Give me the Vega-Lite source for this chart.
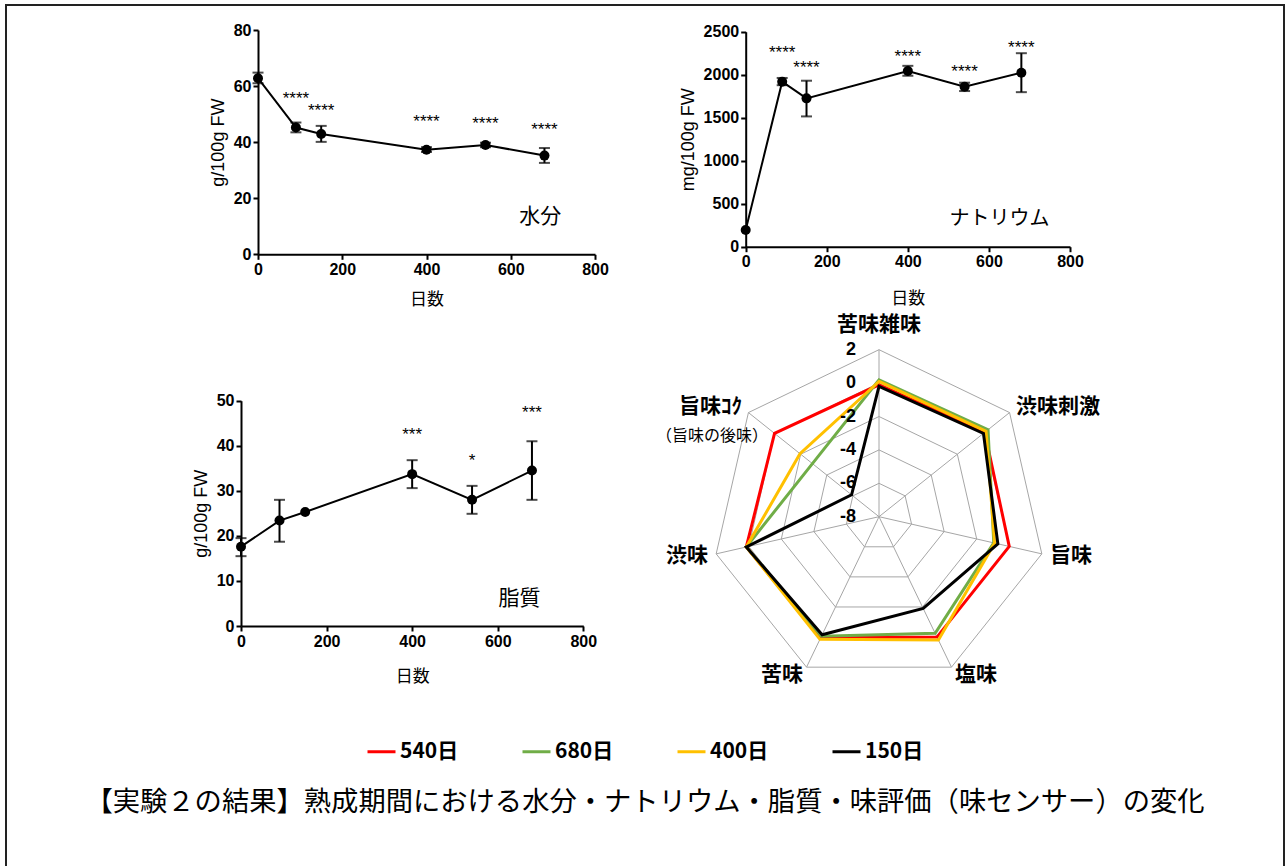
{
  "$schema": "https://vega.github.io/schema/vega-lite/v6.json",
  "width": 1278,
  "height": 870,
  "autosize": "none",
  "padding": {"left": 6, "top": 5, "right": 3, "bottom": 0},
  "background": "white",
  "title": {
    "text": "【実験２の結果】熟成期間における水分・ナトリウム・脂質・味評価（味センサー）の変化",
    "orient": "bottom", "anchor": "middle", "frame": "group", "offset": -86, "baseline": "top",
    "font": "Noto Sans CJK JP", "fontSize": 27.3, "fontWeight": "normal", "color": "black"
  },
  "config": {
    "view": {"stroke": "#222", "strokeWidth": 2},
    "axis": {
      "domainColor": "#000", "domainWidth": 2, "tickColor": "#000", "tickWidth": 2, "tickSize": 5,
      "labelFont": "Liberation Sans", "labelFontWeight": "bold", "labelFontSize": 16, "labelColor": "#000",
      "labelPadding": 2, "labelFlush": false, "labelOverlap": false, "format": "d",
      "titleFont": "Liberation Sans", "titleFontWeight": "normal", "titleFontSize": 18, "titleColor": "#000",
      "grid": false
    }
  },
  "datasets": {
    "water": [
      {"d": 0, "y": 62.8, "lo": 61.0, "hi": 64.8},
      {"d": 90, "y": 45.2, "lo": 43.5, "hi": 47.0, "sig": "****", "sy": 57.2},
      {"d": 150, "y": 42.9, "lo": 40.1, "hi": 45.8, "sig": "****", "sy": 52.9},
      {"d": 400, "y": 37.3, "lo": 36.5, "hi": 38.2, "sig": "****", "sy": 48.9},
      {"d": 540, "y": 39.0, "lo": 38.2, "hi": 39.8, "sig": "****", "sy": 48.3},
      {"d": 680, "y": 35.2, "lo": 32.6, "hi": 37.9, "sig": "****", "sy": 46.1}
    ],
    "sodium": [
      {"d": 0, "y": 194},
      {"d": 90, "y": 1918, "lo": 1878, "hi": 1962, "sig": "****", "sy": 2314},
      {"d": 150, "y": 1725, "lo": 1515, "hi": 1930, "sig": "****", "sy": 2132},
      {"d": 400, "y": 2043, "lo": 1988, "hi": 2103, "sig": "****", "sy": 2267},
      {"d": 540, "y": 1860, "lo": 1810, "hi": 1907, "sig": "****", "sy": 2085},
      {"d": 680, "y": 2023, "lo": 1797, "hi": 2250, "sig": "****", "sy": 2364}
    ],
    "lipid": [
      {"d": 0, "y": 17.6, "lo": 15.5, "hi": 19.5},
      {"d": 90, "y": 23.4, "lo": 18.7, "hi": 28.0},
      {"d": 150, "y": 25.3},
      {"d": 400, "y": 33.7, "lo": 30.6, "hi": 36.8, "sig": "***", "sy": 43.6},
      {"d": 540, "y": 28.0, "lo": 24.9, "hi": 31.1, "sig": "*", "sy": 37.7},
      {"d": 680, "y": 34.5, "lo": 28.0, "hi": 41.0, "sig": "***", "sy": 48.3}
    ],
    "cats": [
      {"k": 0, "name": "苦味雑味", "z": 0},
      {"k": 1, "name": "渋味刺激", "z": 0},
      {"k": 2, "name": "旨味", "z": 0},
      {"k": 3, "name": "塩味", "z": 0},
      {"k": 4, "name": "苦味", "z": 0},
      {"k": 5, "name": "渋味", "z": 0},
      {"k": 6, "name": "旨味ｺｸ", "sub": "（旨味の後味）", "z": 0}
    ]
  },
  "resolve": {"scale": {"x": "independent", "y": "independent"}, "axis": {"x": "independent", "y": "independent"}},
  "layer": [
    {"data": {"name": "water"},
     "mark": {"type": "line", "color": "black", "strokeWidth": 2},
     "encoding": {
       "x": {"field": "d", "type": "quantitative", "scale": {"domain": [0, 800], "range": [252, 589], "nice": false, "zero": false},
             "axis": {"orient": "bottom", "offset": -620.7, "values": [0, 200, 400, 600, 800], "title": "日数", "titlePadding": 14, "titleFont": "Noto Sans CJK JP", "titleFontSize": 17}},
       "y": {"field": "y", "type": "quantitative", "scale": {"domain": [0, 80], "range": [249.3, 25], "nice": false, "zero": false},
             "axis": {"orient": "left", "offset": -252, "values": [0, 20, 40, 60, 80], "title": "g/100g FW", "titlePadding": 6}}}},
    {"data": {"name": "water"},
     "mark": {"type": "rule", "color": "black", "strokeWidth": 2},
     "encoding": {
       "x": {"field": "d", "type": "quantitative", "scale": {"domain": [0, 800], "range": [252, 589], "nice": false, "zero": false}, "axis": null},
       "y": {"field": "lo", "type": "quantitative", "scale": {"domain": [0, 80], "range": [249.3, 25], "nice": false, "zero": false}, "axis": null},
       "y2": {"field": "hi"}}},
    {"data": {"name": "water"},
     "mark": {"type": "tick", "orient": "horizontal", "color": "black", "size": 11, "thickness": 2},
     "encoding": {
       "x": {"field": "d", "type": "quantitative", "scale": {"domain": [0, 800], "range": [252, 589], "nice": false, "zero": false}, "axis": null},
       "y": {"field": "lo", "type": "quantitative", "scale": {"domain": [0, 80], "range": [249.3, 25], "nice": false, "zero": false}, "axis": null}}},
    {"data": {"name": "water"},
     "mark": {"type": "tick", "orient": "horizontal", "color": "black", "size": 11, "thickness": 2},
     "encoding": {
       "x": {"field": "d", "type": "quantitative", "scale": {"domain": [0, 800], "range": [252, 589], "nice": false, "zero": false}, "axis": null},
       "y": {"field": "hi", "type": "quantitative", "scale": {"domain": [0, 80], "range": [249.3, 25], "nice": false, "zero": false}, "axis": null}}},
    {"data": {"name": "water"},
     "mark": {"type": "point", "filled": true, "color": "black", "size": 100, "opacity": 1},
     "encoding": {
       "x": {"field": "d", "type": "quantitative", "scale": {"domain": [0, 800], "range": [252, 589], "nice": false, "zero": false}, "axis": null},
       "y": {"field": "y", "type": "quantitative", "scale": {"domain": [0, 80], "range": [249.3, 25], "nice": false, "zero": false}, "axis": null}}},
    {"data": {"name": "water"},
     "mark": {"type": "text", "font": "Liberation Sans", "fontSize": 17, "dy": 5, "color": "black"},
     "encoding": {
       "x": {"field": "d", "type": "quantitative", "scale": {"domain": [0, 800], "range": [252, 589], "nice": false, "zero": false}, "axis": null},
       "y": {"field": "sy", "type": "quantitative", "scale": {"domain": [0, 80], "range": [249.3, 25], "nice": false, "zero": false}, "axis": null},
       "text": {"field": "sig", "type": "nominal"}}},
    {"data": {"values": [{"d": 670, "y": 13.4, "lab": "水分"}]},
     "mark": {"type": "text", "font": "Noto Sans CJK JP", "fontSize": 21, "color": "black", "baseline": "middle"},
     "encoding": {
       "x": {"field": "d", "type": "quantitative", "scale": {"domain": [0, 800], "range": [252, 589], "nice": false, "zero": false}, "axis": null},
       "y": {"field": "y", "type": "quantitative", "scale": {"domain": [0, 80], "range": [249.3, 25], "nice": false, "zero": false}, "axis": null},
       "text": {"field": "lab", "type": "nominal"}}},

    {"data": {"name": "sodium"},
     "mark": {"type": "line", "color": "black", "strokeWidth": 2},
     "encoding": {
       "x": {"field": "d", "type": "quantitative", "scale": {"domain": [0, 800], "range": [739.7, 1064], "nice": false, "zero": false},
             "axis": {"orient": "bottom", "offset": -628.3, "values": [0, 200, 400, 600, 800], "title": "日数", "titlePadding": 21, "titleFont": "Noto Sans CJK JP", "titleFontSize": 17}},
       "y": {"field": "y", "type": "quantitative", "scale": {"domain": [0, 2500], "range": [241.7, 26.7], "nice": false, "zero": false},
             "axis": {"orient": "left", "offset": -739.7, "values": [0, 500, 1000, 1500, 2000, 2500], "title": "mg/100g FW", "titlePadding": 6}}}},
    {"data": {"name": "sodium"},
     "mark": {"type": "rule", "color": "black", "strokeWidth": 2},
     "encoding": {
       "x": {"field": "d", "type": "quantitative", "scale": {"domain": [0, 800], "range": [739.7, 1064], "nice": false, "zero": false}, "axis": null},
       "y": {"field": "lo", "type": "quantitative", "scale": {"domain": [0, 2500], "range": [241.7, 26.7], "nice": false, "zero": false}, "axis": null},
       "y2": {"field": "hi"}}},
    {"data": {"name": "sodium"},
     "mark": {"type": "tick", "orient": "horizontal", "color": "black", "size": 11, "thickness": 2},
     "encoding": {
       "x": {"field": "d", "type": "quantitative", "scale": {"domain": [0, 800], "range": [739.7, 1064], "nice": false, "zero": false}, "axis": null},
       "y": {"field": "lo", "type": "quantitative", "scale": {"domain": [0, 2500], "range": [241.7, 26.7], "nice": false, "zero": false}, "axis": null}}},
    {"data": {"name": "sodium"},
     "mark": {"type": "tick", "orient": "horizontal", "color": "black", "size": 11, "thickness": 2},
     "encoding": {
       "x": {"field": "d", "type": "quantitative", "scale": {"domain": [0, 800], "range": [739.7, 1064], "nice": false, "zero": false}, "axis": null},
       "y": {"field": "hi", "type": "quantitative", "scale": {"domain": [0, 2500], "range": [241.7, 26.7], "nice": false, "zero": false}, "axis": null}}},
    {"data": {"name": "sodium"},
     "mark": {"type": "point", "filled": true, "color": "black", "size": 100, "opacity": 1},
     "encoding": {
       "x": {"field": "d", "type": "quantitative", "scale": {"domain": [0, 800], "range": [739.7, 1064], "nice": false, "zero": false}, "axis": null},
       "y": {"field": "y", "type": "quantitative", "scale": {"domain": [0, 2500], "range": [241.7, 26.7], "nice": false, "zero": false}, "axis": null}}},
    {"data": {"name": "sodium"},
     "mark": {"type": "text", "font": "Liberation Sans", "fontSize": 17, "dy": 5, "color": "black"},
     "encoding": {
       "x": {"field": "d", "type": "quantitative", "scale": {"domain": [0, 800], "range": [739.7, 1064], "nice": false, "zero": false}, "axis": null},
       "y": {"field": "sy", "type": "quantitative", "scale": {"domain": [0, 2500], "range": [241.7, 26.7], "nice": false, "zero": false}, "axis": null},
       "text": {"field": "sig", "type": "nominal"}}},
    {"data": {"values": [{"d": 626, "y": 322, "lab": "ナトリウム"}]},
     "mark": {"type": "text", "font": "Noto Sans CJK JP", "fontSize": 20, "color": "black", "baseline": "middle"},
     "encoding": {
       "x": {"field": "d", "type": "quantitative", "scale": {"domain": [0, 800], "range": [739.7, 1064], "nice": false, "zero": false}, "axis": null},
       "y": {"field": "y", "type": "quantitative", "scale": {"domain": [0, 2500], "range": [241.7, 26.7], "nice": false, "zero": false}, "axis": null},
       "text": {"field": "lab", "type": "nominal"}}},

    {"data": {"name": "lipid"},
     "mark": {"type": "line", "color": "black", "strokeWidth": 2},
     "encoding": {
       "x": {"field": "d", "type": "quantitative", "scale": {"domain": [0, 800], "range": [235, 577.3], "nice": false, "zero": false},
             "axis": {"orient": "bottom", "offset": -249, "values": [0, 200, 400, 600, 800], "title": "日数", "titlePadding": 19, "titleFont": "Noto Sans CJK JP", "titleFontSize": 17}},
       "y": {"field": "y", "type": "quantitative", "scale": {"domain": [0, 50], "range": [621, 395.7], "nice": false, "zero": false},
             "axis": {"orient": "left", "offset": -235, "values": [0, 10, 20, 30, 40, 50], "title": "g/100g FW", "titlePadding": 6}}}},
    {"data": {"name": "lipid"},
     "mark": {"type": "rule", "color": "black", "strokeWidth": 2},
     "encoding": {
       "x": {"field": "d", "type": "quantitative", "scale": {"domain": [0, 800], "range": [235, 577.3], "nice": false, "zero": false}, "axis": null},
       "y": {"field": "lo", "type": "quantitative", "scale": {"domain": [0, 50], "range": [621, 395.7], "nice": false, "zero": false}, "axis": null},
       "y2": {"field": "hi"}}},
    {"data": {"name": "lipid"},
     "mark": {"type": "tick", "orient": "horizontal", "color": "black", "size": 11, "thickness": 2},
     "encoding": {
       "x": {"field": "d", "type": "quantitative", "scale": {"domain": [0, 800], "range": [235, 577.3], "nice": false, "zero": false}, "axis": null},
       "y": {"field": "lo", "type": "quantitative", "scale": {"domain": [0, 50], "range": [621, 395.7], "nice": false, "zero": false}, "axis": null}}},
    {"data": {"name": "lipid"},
     "mark": {"type": "tick", "orient": "horizontal", "color": "black", "size": 11, "thickness": 2},
     "encoding": {
       "x": {"field": "d", "type": "quantitative", "scale": {"domain": [0, 800], "range": [235, 577.3], "nice": false, "zero": false}, "axis": null},
       "y": {"field": "hi", "type": "quantitative", "scale": {"domain": [0, 50], "range": [621, 395.7], "nice": false, "zero": false}, "axis": null}}},
    {"data": {"name": "lipid"},
     "mark": {"type": "point", "filled": true, "color": "black", "size": 100, "opacity": 1},
     "encoding": {
       "x": {"field": "d", "type": "quantitative", "scale": {"domain": [0, 800], "range": [235, 577.3], "nice": false, "zero": false}, "axis": null},
       "y": {"field": "y", "type": "quantitative", "scale": {"domain": [0, 50], "range": [621, 395.7], "nice": false, "zero": false}, "axis": null}}},
    {"data": {"name": "lipid"},
     "mark": {"type": "text", "font": "Liberation Sans", "fontSize": 17, "dy": 5, "color": "black"},
     "encoding": {
       "x": {"field": "d", "type": "quantitative", "scale": {"domain": [0, 800], "range": [235, 577.3], "nice": false, "zero": false}, "axis": null},
       "y": {"field": "sy", "type": "quantitative", "scale": {"domain": [0, 50], "range": [621, 395.7], "nice": false, "zero": false}, "axis": null},
       "text": {"field": "sig", "type": "nominal"}}},
    {"data": {"values": [{"d": 651, "y": 6.0, "lab": "脂質"}]},
     "mark": {"type": "text", "font": "Noto Sans CJK JP", "fontSize": 21, "color": "black", "baseline": "middle"},
     "encoding": {
       "x": {"field": "d", "type": "quantitative", "scale": {"domain": [0, 800], "range": [235, 577.3], "nice": false, "zero": false}, "axis": null},
       "y": {"field": "y", "type": "quantitative", "scale": {"domain": [0, 50], "range": [621, 395.7], "nice": false, "zero": false}, "axis": null},
       "text": {"field": "lab", "type": "nominal"}}},

    {"data": {"values": [
       {"r": 10, "k": [0, 1, 2, 3, 4, 5, 6]},
       {"r": 8, "k": [0, 1, 2, 3, 4, 5, 6]},
       {"r": 6, "k": [0, 1, 2, 3, 4, 5, 6]},
       {"r": 4, "k": [0, 1, 2, 3, 4, 5, 6]},
       {"r": 2, "k": [0, 1, 2, 3, 4, 5, 6]}
     ]},
     "transform": [
       {"flatten": ["k"]},
       {"calculate": "datum.r*cos(PI/2-datum.k*2*PI/7)", "as": "px"},
       {"calculate": "datum.r*sin(PI/2-datum.k*2*PI/7)", "as": "py"}
     ],
     "mark": {"type": "line", "interpolate": "linear-closed", "stroke": "#A6A6A6", "strokeWidth": 1},
     "encoding": {
       "x": {"field": "px", "type": "quantitative", "scale": {"domain": [-10, 10], "range": [706, 1040], "nice": false, "zero": false}, "axis": null},
       "y": {"field": "py", "type": "quantitative", "scale": {"domain": [-10, 10], "range": [678.7, 344.7], "nice": false, "zero": false}, "axis": null},
       "detail": {"field": "r", "type": "nominal"},
       "order": {"field": "k", "type": "quantitative"}}},
    {"data": {"name": "cats"},
     "transform": [
       {"calculate": "10*cos(PI/2-datum.k*2*PI/7)", "as": "px"},
       {"calculate": "10*sin(PI/2-datum.k*2*PI/7)", "as": "py"}
     ],
     "mark": {"type": "rule", "stroke": "#A6A6A6", "strokeWidth": 1},
     "encoding": {
       "x": {"field": "z", "type": "quantitative", "scale": {"domain": [-10, 10], "range": [706, 1040], "nice": false, "zero": false}, "axis": null},
       "y": {"field": "z", "type": "quantitative", "scale": {"domain": [-10, 10], "range": [678.7, 344.7], "nice": false, "zero": false}, "axis": null},
       "x2": {"field": "px"},
       "y2": {"field": "py"}}},
    {"data": {"values": [
       {"s": "540日", "k": 0, "v": -0.1}, {"s": "540日", "k": 1, "v": 0.1}, {"s": "540日", "k": 2, "v": 0.0}, {"s": "540日", "k": 3, "v": 0.0}, {"s": "540日", "k": 4, "v": 0.05}, {"s": "540日", "k": 5, "v": 0.15}, {"s": "540日", "k": 6, "v": 0.0},
       {"s": "680日", "k": 0, "v": 0.2}, {"s": "680日", "k": 1, "v": 0.35}, {"s": "680日", "k": 2, "v": -0.95}, {"s": "680日", "k": 3, "v": -0.25}, {"s": "680日", "k": 4, "v": -0.05}, {"s": "680日", "k": 5, "v": 0.15}, {"s": "680日", "k": 6, "v": -2.9},
       {"s": "400日", "k": 0, "v": 0.1}, {"s": "400日", "k": 1, "v": 0.2}, {"s": "400日", "k": 2, "v": -0.9}, {"s": "400日", "k": 3, "v": 0.2}, {"s": "400日", "k": 4, "v": 0.15}, {"s": "400日", "k": 5, "v": 0.15}, {"s": "400日", "k": 6, "v": -1.95},
       {"s": "150日", "k": 0, "v": -0.2}, {"s": "150日", "k": 1, "v": 0.0}, {"s": "150日", "k": 2, "v": -0.7}, {"s": "150日", "k": 3, "v": -1.9}, {"s": "150日", "k": 4, "v": -0.15}, {"s": "150日", "k": 5, "v": 0.15}, {"s": "150日", "k": 6, "v": -5.9}
     ]},
     "transform": [
       {"calculate": "(datum.v+8)*cos(PI/2-datum.k*2*PI/7)", "as": "px"},
       {"calculate": "(datum.v+8)*sin(PI/2-datum.k*2*PI/7)", "as": "py"}
     ],
     "mark": {"type": "line", "interpolate": "linear-closed", "strokeWidth": 3},
     "encoding": {
       "x": {"field": "px", "type": "quantitative", "scale": {"domain": [-10, 10], "range": [706, 1040], "nice": false, "zero": false}, "axis": null},
       "y": {"field": "py", "type": "quantitative", "scale": {"domain": [-10, 10], "range": [678.7, 344.7], "nice": false, "zero": false}, "axis": null},
       "order": {"field": "k", "type": "quantitative"},
       "color": {"field": "s", "type": "nominal",
         "scale": {"domain": ["540日", "680日", "400日", "150日"], "range": ["#FF0000", "#70AD47", "#FFC000", "#000000"]},
         "legend": {"orient": "none", "legendX": 360, "legendY": 731, "direction": "horizontal", "title": null,
           "symbolType": "stroke", "symbolSize": 784, "symbolStrokeWidth": 3, "padding": 0,
           "labelFont": "Noto Sans CJK JP", "labelFontWeight": "bold", "labelFontSize": 21, "labelColor": "black",
           "labelOffset": 3, "columnPadding": 57}}}},
    {"data": {"values": [
       {"t": "2", "v": 2, "z": 0}, {"t": "0", "v": 0, "z": 0}, {"t": "-2", "v": -2, "z": 0}, {"t": "-4", "v": -4, "z": 0}, {"t": "-6", "v": -6, "z": 0}, {"t": "-8", "v": -8, "z": 0}
     ]},
     "transform": [{"calculate": "datum.v+8", "as": "ry"}],
     "mark": {"type": "text", "align": "right", "baseline": "middle", "dx": -23, "font": "Liberation Sans", "fontWeight": "bold", "fontSize": 18, "color": "black"},
     "encoding": {
       "x": {"field": "z", "type": "quantitative", "scale": {"domain": [-10, 10], "range": [706, 1040], "nice": false, "zero": false}, "axis": null},
       "y": {"field": "ry", "type": "quantitative", "scale": {"domain": [-10, 10], "range": [678.7, 344.7], "nice": false, "zero": false}, "axis": null},
       "text": {"field": "t", "type": "nominal"}}},
    {"data": {"name": "cats"},
     "transform": [
       {"filter": "datum.k == 0"},
       {"calculate": "11.48*cos(PI/2-datum.k*2*PI/7)", "as": "lx"},
       {"calculate": "11.48*sin(PI/2-datum.k*2*PI/7)", "as": "ly"}
     ],
     "mark": {"type": "text", "align": "center", "baseline": "middle", "font": "Noto Sans CJK JP", "fontWeight": "bold", "fontSize": 21, "color": "black"},
     "encoding": {
       "x": {"field": "lx", "type": "quantitative", "scale": {"domain": [-10, 10], "range": [706, 1040], "nice": false, "zero": false}, "axis": null},
       "y": {"field": "ly", "type": "quantitative", "scale": {"domain": [-10, 10], "range": [678.7, 344.7], "nice": false, "zero": false}, "axis": null},
       "text": {"field": "name", "type": "nominal"}}},
    {"data": {"name": "cats"},
     "transform": [
       {"filter": "datum.k >= 1 && datum.k <= 3"},
       {"calculate": "10.5*cos(PI/2-datum.k*2*PI/7)", "as": "lx"},
       {"calculate": "10.5*sin(PI/2-datum.k*2*PI/7)", "as": "ly"}
     ],
     "mark": {"type": "text", "align": "left", "baseline": "middle", "font": "Noto Sans CJK JP", "fontWeight": "bold", "fontSize": 21, "color": "black"},
     "encoding": {
       "x": {"field": "lx", "type": "quantitative", "scale": {"domain": [-10, 10], "range": [706, 1040], "nice": false, "zero": false}, "axis": null},
       "y": {"field": "ly", "type": "quantitative", "scale": {"domain": [-10, 10], "range": [678.7, 344.7], "nice": false, "zero": false}, "axis": null},
       "text": {"field": "name", "type": "nominal"}}},
    {"data": {"name": "cats"},
     "transform": [
       {"filter": "datum.k >= 4"},
       {"calculate": "10.5*cos(PI/2-datum.k*2*PI/7)", "as": "lx"},
       {"calculate": "10.5*sin(PI/2-datum.k*2*PI/7)", "as": "ly"}
     ],
     "mark": {"type": "text", "align": "right", "baseline": "middle", "font": "Noto Sans CJK JP", "fontWeight": "bold", "fontSize": 21, "color": "black"},
     "encoding": {
       "x": {"field": "lx", "type": "quantitative", "scale": {"domain": [-10, 10], "range": [706, 1040], "nice": false, "zero": false}, "axis": null},
       "y": {"field": "ly", "type": "quantitative", "scale": {"domain": [-10, 10], "range": [678.7, 344.7], "nice": false, "zero": false}, "axis": null},
       "text": {"field": "name", "type": "nominal"}}},
    {"data": {"name": "cats"},
     "transform": [
       {"filter": "isValid(datum.sub)"},
       {"calculate": "10.5*cos(PI/2-datum.k*2*PI/7)", "as": "lx"},
       {"calculate": "10.5*sin(PI/2-datum.k*2*PI/7)", "as": "ly"}
     ],
     "mark": {"type": "text", "align": "center", "baseline": "middle", "dx": -30, "dy": 29, "font": "Noto Sans CJK JP", "fontWeight": "normal", "fontSize": 16, "color": "black"},
     "encoding": {
       "x": {"field": "lx", "type": "quantitative", "scale": {"domain": [-10, 10], "range": [706, 1040], "nice": false, "zero": false}, "axis": null},
       "y": {"field": "ly", "type": "quantitative", "scale": {"domain": [-10, 10], "range": [678.7, 344.7], "nice": false, "zero": false}, "axis": null},
       "text": {"field": "sub", "type": "nominal"}}}
  ]
}
